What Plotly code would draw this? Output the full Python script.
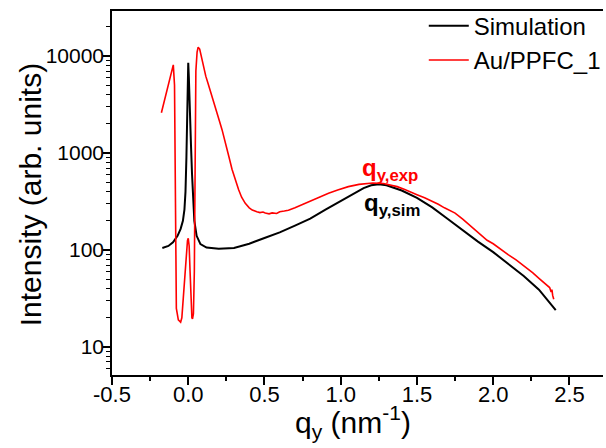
import plotly.graph_objects as go

# Simulated scattering profile along q_y
q_sim = [-0.17, -0.13, -0.10, -0.07, -0.05, -0.035, -0.025, -0.018, -0.012, -0.008,
         -0.004, 0.0, 0.004, 0.008, 0.012, 0.018, 0.025, 0.032, 0.04, 0.055,
         0.08, 0.12, 0.2, 0.3, 0.4, 0.5, 0.6, 0.7, 0.8, 0.9,
         1.0, 1.1, 1.15, 1.2, 1.25, 1.3, 1.35, 1.4, 1.5, 1.6,
         1.7, 1.8, 1.9, 2.0, 2.1, 2.2, 2.3, 2.41]
i_sim = [105, 110, 120, 140, 165, 200, 260, 400, 900, 2000,
         4000, 8500, 6000, 3200, 2000, 1200, 600, 320, 200, 140,
         115, 106, 103, 105, 116, 133, 152, 178, 210, 260,
         320, 395, 435, 465, 475, 465, 440, 410, 345, 275,
         210, 160, 122, 95, 72, 54, 39, 24]

# Measured profile, sample Au/PPFC_1
q_exp = [-0.176, -0.15, -0.125, -0.098, -0.09, -0.087, -0.085, -0.082, -0.078, -0.065,
         -0.05, -0.042, -0.035, -0.025, -0.015, -0.005, 0.0, 0.006, 0.012, 0.018,
         0.024, 0.028, 0.034, 0.04, 0.042, 0.045, 0.05, 0.058, 0.065, 0.075,
         0.088, 0.1, 0.115, 0.13, 0.145, 0.157, 0.175, 0.19, 0.205, 0.222,
         0.237, 0.25, 0.268, 0.287, 0.31, 0.33, 0.35, 0.374, 0.4, 0.42,
         0.45, 0.47, 0.49, 0.505, 0.53, 0.55, 0.58, 0.6, 0.63, 0.657,
         0.7, 0.74, 0.776, 0.81, 0.85, 0.92, 0.98, 1.05, 1.12, 1.21,
         1.28, 1.33, 1.37, 1.42, 1.46, 1.5, 1.55, 1.6, 1.64, 1.68,
         1.72, 1.75, 1.8, 1.85, 1.9, 1.93, 1.96, 2.0, 2.05, 2.08,
         2.1, 2.15, 2.2, 2.23, 2.26, 2.3, 2.33, 2.35, 2.37, 2.38,
         2.385, 2.39, 2.397]
i_exp = [2600, 3800, 5500, 8100, 5000, 1450, 500, 60, 25, 19,
         18, 20, 28, 50, 85, 125, 132, 110, 60, 30,
         20, 19.5, 22, 60, 300, 2000, 7000, 11000, 12300, 11800,
         9600, 7400, 6200, 5200, 4300, 3800, 3000, 2550, 2120, 1730,
         1420, 1180, 900, 680, 520, 420, 350, 303, 272, 258,
         248, 243, 246, 240, 236, 241, 238, 248, 252, 257,
         272, 290, 307, 322, 345, 385, 415, 450, 475, 490,
         485, 468, 450, 420, 398, 372, 345, 318, 296, 272,
         255, 240, 208, 178, 152, 140, 126, 116, 101, 94,
         89, 79, 69, 63, 58, 51, 46, 44, 41, 37,
         39, 34, 31]

FONT = "Arial, Liberation Sans, sans-serif"

fig = go.Figure()
fig.add_trace(go.Scatter(x=q_sim, y=i_sim, mode="lines", name="Simulation",
                         line=dict(color="black", width=2)))
fig.add_trace(go.Scatter(x=q_exp, y=i_exp, mode="lines", name="Au/PPFC_1",
                         line=dict(color="#ff0000", width=1.6)))

fig.update_layout(
    width=606, height=448,
    margin=dict(l=112, r=0, t=11, b=73),
    paper_bgcolor="white", plot_bgcolor="white",
    font=dict(family=FONT, color="black", size=22),
    showlegend=True,
    legend=dict(x=0.635, y=1.02, xanchor="left", yanchor="top",
                bgcolor="rgba(0,0,0,0)", font=dict(size=24),
                tracegroupgap=0, itemwidth=40),
)

fig.update_xaxes(
    range=[-0.5, 2.72], tickvals=[-0.5, 0.0, 0.5, 1.0, 1.5, 2.0, 2.5],
    ticktext=["-0.5", "0.0", "0.5", "1.0", "1.5", "2.0", "2.5"],
    ticks="outside", ticklen=8, tickwidth=1.5, tickcolor="black",
    minor=dict(ticks="outside", ticklen=4, tickwidth=1.5, tickcolor="black",
               dtick=0.25, showgrid=False),
    showline=True, linecolor="black", linewidth=1.5, mirror=True,
    showgrid=False, zeroline=False, tickfont=dict(size=22),
    ticklabelstandoff=-9,
)
fig.update_yaxes(
    type="log", range=[0.711, 4.464],
    tickvals=[10, 100, 1000, 10000], ticktext=["10", "100", "1000", "10000"],
    ticks="outside", ticklen=7, tickwidth=1.5, tickcolor="black",
    minor=dict(ticks="outside", ticklen=4, tickwidth=1, tickcolor="black",
               dtick="D1", showgrid=False),
    showline=True, linecolor="black", linewidth=1.5, mirror=False,
    showgrid=False, zeroline=False, tickfont=dict(size=21),
    ticklabelstandoff=-5,
)

# Axis titles
fig.add_annotation(text="Intensity (arb. units)", xref="paper", yref="paper",
                   x=-0.166, y=0.495, xanchor="center", yanchor="middle",
                   textangle=-90, showarrow=False, font=dict(size=30))
fig.add_annotation(text="q<sub>y</sub> (nm<sup>-1</sup>)", xref="paper", yref="paper",
                   x=0.49, y=-0.128, xanchor="center", yanchor="middle",
                   showarrow=False, font=dict(size=30))

# Peak position labels
fig.add_annotation(text="<b>q<sub>y,exp</sub></b>", x=1.125, y=2.83,
                   xanchor="left", yanchor="middle", showarrow=False,
                   font=dict(size=24, color="#ff0000"))
fig.add_annotation(text="<b>q<sub>y,sim</sub></b>", x=1.14, y=2.47,
                   xanchor="left", yanchor="middle", showarrow=False,
                   font=dict(size=24, color="black"))

fig.write_html("out.html")
